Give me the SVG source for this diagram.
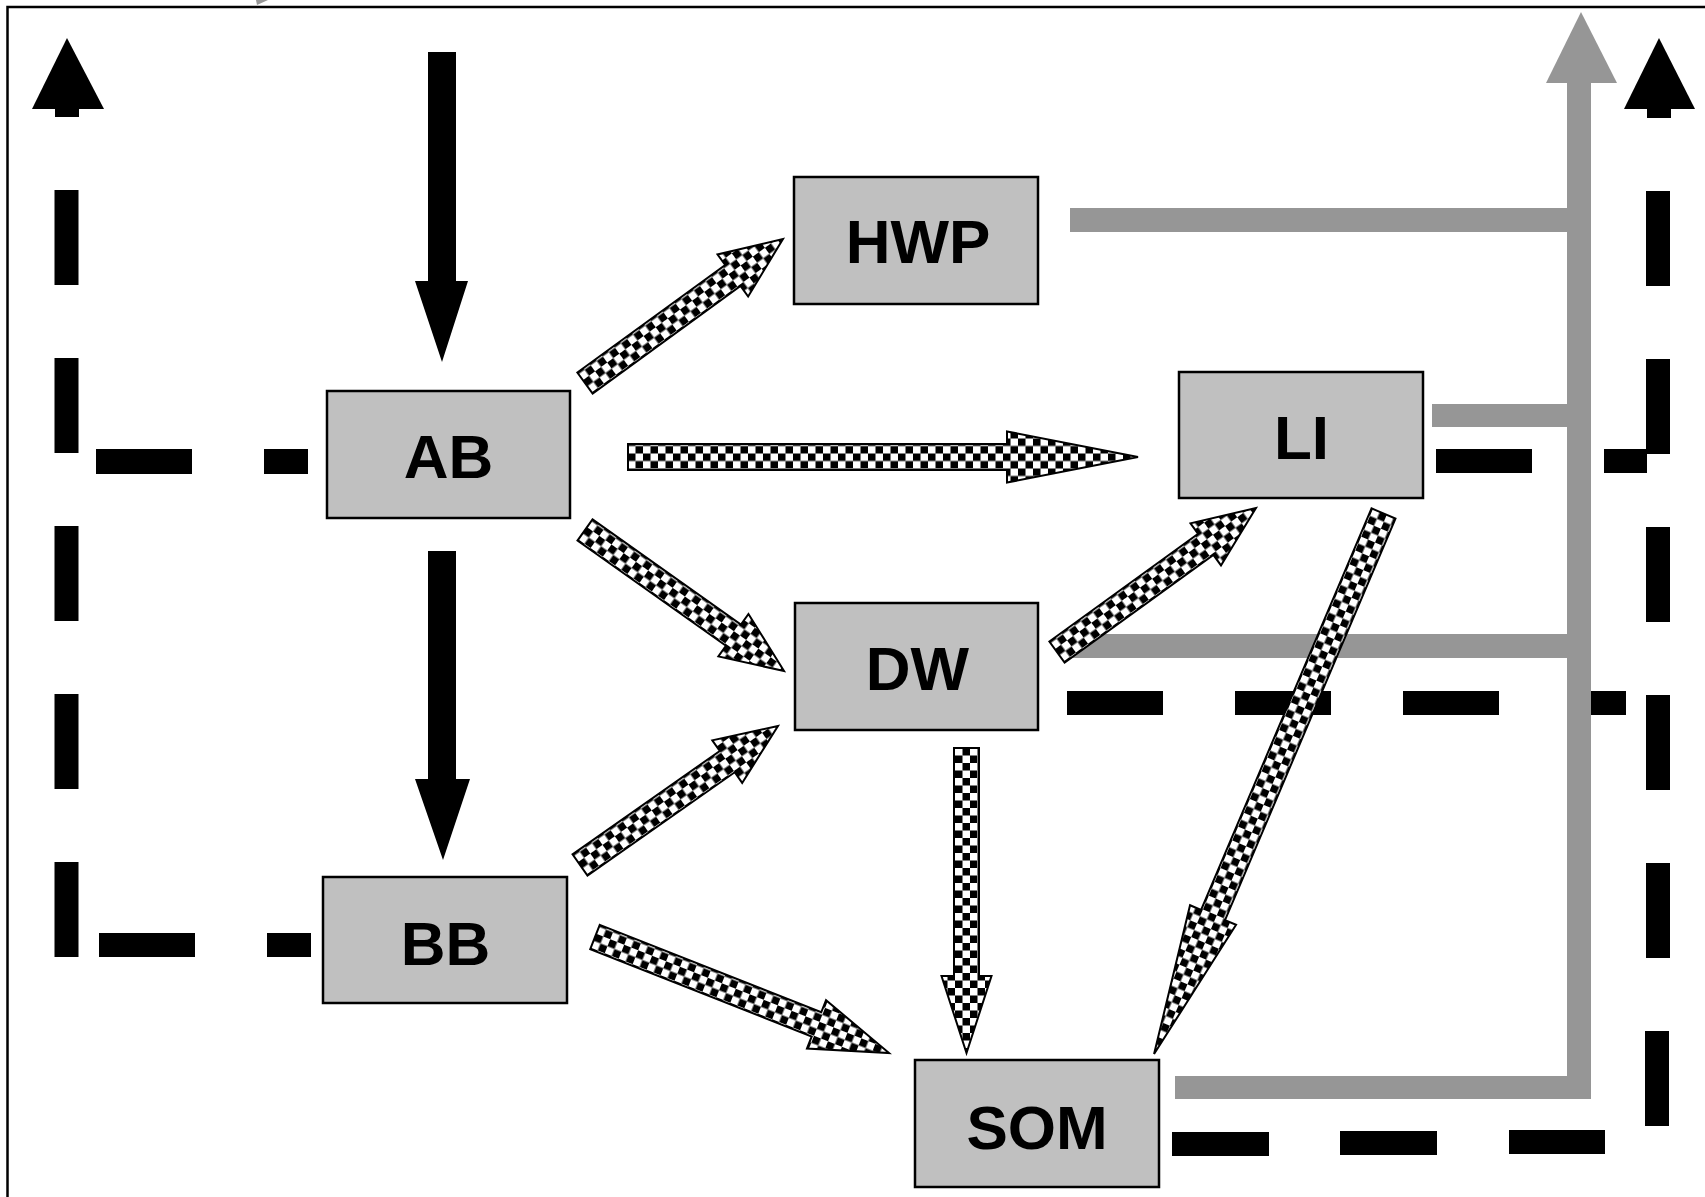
<svg xmlns="http://www.w3.org/2000/svg" width="1705" height="1197" viewBox="0 0 1705 1197">
<style>
.box{fill:#c0c0c0;stroke:#000;stroke-width:2.5}
.lbl{font-family:"Liberation Sans",Arial,sans-serif;font-weight:bold;font-size:62px;fill:#000;text-anchor:middle}
.dash{fill:#000}
.gray{fill:#969696}
.blk{fill:#000}
.chk{fill:url(#checker);stroke:#000;stroke-width:2;stroke-linejoin:miter}
</style>
<defs>
<pattern id="checker" patternUnits="userSpaceOnUse" width="15" height="15" x="0" y="-3.5">
<rect width="15" height="15" fill="#fff"/>
<rect width="7.5" height="7.5" fill="#000"/>
<rect x="7.5" y="7.5" width="7.5" height="7.5" fill="#000"/>
</pattern>
</defs>
<rect width="1705" height="1197" fill="#fff"/>
<path d="M7.5,1197 V7 H1705" fill="none" stroke="#000" stroke-width="2.5"/>
<polygon points="256,0 268,0 257,5" class="gray"/>

<g id="connectors">
<!-- left dashed line -->
<polygon class="blk" points="67,38 104,109 32,109"/>
<rect class="dash" x="55" y="108" width="24" height="9"/>
<rect class="dash" x="54.5" y="190" width="24" height="95"/>
<rect class="dash" x="54.5" y="358" width="24" height="95"/>
<rect class="dash" x="54.5" y="526" width="24" height="95"/>
<rect class="dash" x="54.5" y="694" width="24" height="95"/>
<rect class="dash" x="54.5" y="862" width="24" height="95"/>
<rect class="dash" x="96" y="449" width="96" height="25"/>
<rect class="dash" x="264" y="449" width="44" height="25"/>
<rect class="dash" x="99" y="933" width="96" height="24"/>
<rect class="dash" x="267" y="933" width="44" height="24"/>
<!-- right dashed line -->
<polygon class="blk" points="1659,38 1695,109 1624,109"/>
<rect class="dash" x="1647" y="108" width="24" height="10"/>
<rect class="dash" x="1646" y="191" width="24" height="95"/>
<rect class="dash" x="1646" y="359" width="24" height="95"/>
<rect class="dash" x="1646" y="527" width="24" height="95"/>
<rect class="dash" x="1646" y="695" width="24" height="95"/>
<rect class="dash" x="1646" y="863" width="24" height="95"/>
<rect class="dash" x="1645" y="1031" width="24" height="95"/>
<rect class="dash" x="1436" y="449" width="96" height="24"/>
<rect class="dash" x="1604" y="449" width="43" height="24"/>
<rect class="dash" x="1067" y="691" width="96" height="24"/>
<rect class="dash" x="1235" y="691" width="96" height="24"/>
<rect class="dash" x="1403" y="691" width="96" height="24"/>
<rect class="dash" x="1591" y="691" width="35" height="24"/>
<rect class="dash" x="1172" y="1132" width="97" height="24"/>
<rect class="dash" x="1340" y="1131" width="97" height="24"/>
<rect class="dash" x="1509" y="1130" width="96" height="24"/>
<!-- gray collector -->
<rect class="gray" x="1567" y="82" width="24" height="1017"/>
<polygon class="gray" points="1581,12 1617,83 1546,83"/>
<rect class="gray" x="1070" y="208" width="498" height="24"/>
<rect class="gray" x="1432" y="404" width="136" height="23"/>
<rect class="gray" x="1065" y="634" width="503" height="24"/>
<rect class="gray" x="1175" y="1076" width="416" height="23"/>
<!-- black vertical arrows -->
<polygon class="blk" points="428,52 456,52 456,281 468,281 442,362 415,281 428,281"/>
<polygon class="blk" points="428,551 456,551 456,779 470,779 443,860 415,779 428,779"/>
<!-- checkered arrows -->
<g transform="translate(585,383) rotate(-36.03)"><polygon class="chk" points="0,-13 182.8,-13 182.8,-26 244.8,0 182.8,26 182.8,13 0,13"/></g>
<g transform="translate(585,530) rotate(35.32)"><polygon class="chk" points="0,-13 181.9,-13 181.9,-26 243.9,0 181.9,26 181.9,13 0,13"/></g>
<g transform="translate(628,457)"><polygon class="chk" points="0,-13 379,-13 379,-25.5 510,0 379,25.5 379,13 0,13"/></g>
<g transform="translate(580,865) rotate(-35.07)"><polygon class="chk" points="0,-13 179.9,-13 179.9,-26 241.9,0 179.9,26 179.9,13 0,13"/></g>
<g transform="translate(595,937) rotate(21.53)"><polygon class="chk" points="0,-13 238.1,-13 238.1,-26 316.1,0 238.1,26 238.1,13 0,13"/></g>
<g transform="translate(966.5,748) rotate(90)"><polygon class="chk" points="0,-12.5 228,-12.5 228,-25 305,0 228,25 228,12.5 0,12.5"/></g>
<g transform="translate(1057,652) rotate(-35.89)"><polygon class="chk" points="0,-13 183.6,-13 183.6,-26 245.6,0 183.6,26 183.6,13 0,13"/></g>
<g transform="translate(1383.5,513.5) rotate(113)"><polygon class="chk" points="0,-13 436.2,-13 436.2,-25 587.2,0 436.2,25 436.2,13 0,13"/></g>
</g>

<g id="node-HWP"><rect class="box" x="794" y="177" width="244" height="127"/><text class="lbl" x="918" y="263">HWP</text></g>
<g id="node-AB"><rect class="box" x="327" y="391" width="243" height="127"/><text class="lbl" x="448.5" y="478">AB</text></g>
<g id="node-LI"><rect class="box" x="1179" y="372" width="244" height="126"/><text class="lbl" x="1301.5" y="459">LI</text></g>
<g id="node-DW"><rect class="box" x="795" y="603" width="243" height="127"/><text class="lbl" x="917.5" y="690">DW</text></g>
<g id="node-BB"><rect class="box" x="323" y="877" width="244" height="126"/><text class="lbl" x="445.5" y="965">BB</text></g>
<g id="node-SOM"><rect class="box" x="915" y="1060" width="244" height="127"/><text class="lbl" x="1037" y="1149">SOM</text></g>
</svg>
